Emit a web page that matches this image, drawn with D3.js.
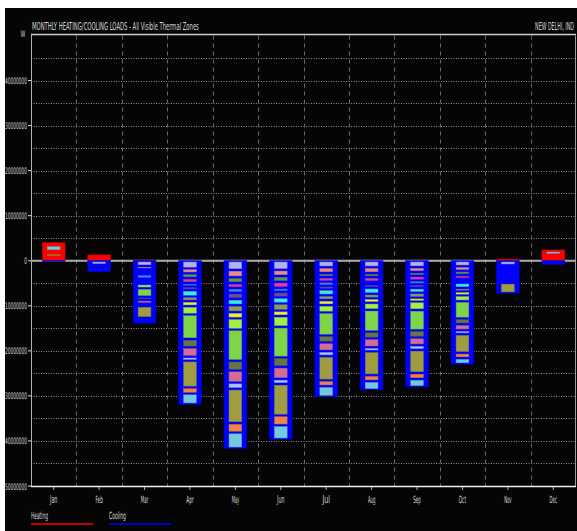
<!DOCTYPE html>
<html>
<head>
<meta charset="utf-8">
<script src="https://cdn.jsdelivr.net/npm/d3@7"></script>
<style>
  body { margin: 0; background: #fff; }
  svg { display: block; }
  text { font-family: "Liberation Sans Narrow", "DejaVu Sans Condensed", "Liberation Sans", sans-serif; fill: #d8d8d8; }
</style>
</head>
<body>
<svg id="chart" width="577" height="531"></svg>
<script>
// monthly loads in MW (heating positive, cooling shown below zero)
const months = ["Jan", "Feb", "Mar", "Apr", "May", "Jun", "Jul", "Aug", "Sep", "Oct", "Nov", "Dec"];

const heatTotal = [4.0, 1.3, 0.1, 0, 0, 0, 0, 0, 0, 0, 0.35, 2.4];
const coolTotal = [0.2, 2.4, 13.85, 31.85, 41.6, 39.6, 30.15, 28.65, 28.0, 22.95, 7.2, 0.8];

// one colour per thermal zone, zones stacked outward from the zero line
const zoneColors = ["#b0b4e8", "#e88c84", "#5a9a48", "#e83c9c", "#3c8ce0", "#704c9c", "#40e8e0", "#8c9c5c", "#f0f028",
  "#a4ee40", "#80d448", "#687444", "#d46c98", "#a8c4f0", "#a09c40", "#f08444", "#74c8dc"];

// per-zone heating loads (MW)
const heatZones = [
  [0.05, 0.05, 0.05, 0.05, 0.05, 0.05, 0.1, 0.05, 0.05, 0.1, 0.1, 0.05, 0.1, 0.05, 0.75, 0.5, 1.25],
  [0.1, 0, 0.05, 0, 0.05, 0.1, 0.1, 0.05, 0, 0.1, 0.2, 0.1, 0.1, 0, 0.2, 0.05, 0.1],
  [], [], [], [], [], [], [], [], [],
  [0.1, 0.05, 0.05, 0.05, 0.05, 0.05, 0.1, 0.05, 0.05, 0.1, 0.2, 0.1, 0.1, 0.05, 0.2, 0.05, 0.87]
];

// per-zone cooling loads (MW)
const coolZones = [
  [0.2],
  [0.9, 0.1, 0, 0, 0.1, 0, 0.1, 0, 0, 0.1, 0.4, 0.1, 0.1, 0, 0.5, 0, 0],
  [1.18, 0.71, 0.56, 0.56, 0.95, 0.29, 0.29, 0.28, 0.29, 1.00, 1.89, 0.67, 0.84, 0.56, 2.60, 0.56, 0.62],
  [1.70, 1.08, 1.08, 1.07, 0.78, 0.82, 1.40, 1.04, 1.11, 1.84, 5.46, 1.84, 2.08, 0.88, 5.93, 1.37, 2.37],
  [2.04, 1.62, 1.30, 1.08, 1.07, 1.38, 1.37, 1.56, 1.37, 2.48, 6.92, 2.19, 2.67, 1.37, 7.60, 2.11, 3.51],
  [2.00, 1.38, 1.29, 1.33, 0.89, 1.26, 1.33, 1.59, 1.20, 2.40, 6.78, 2.11, 2.67, 1.11, 7.00, 2.19, 3.10],
  [1.44, 1.30, 0.89, 1.00, 0.92, 0.82, 1.29, 1.08, 1.11, 1.62, 5.11, 1.56, 1.93, 1.11, 5.37, 1.30, 2.30],
  [1.44, 1.30, 0.89, 1.03, 0.53, 0.80, 1.33, 1.03, 0.97, 1.56, 4.84, 1.52, 1.97, 0.89, 5.30, 1.33, 1.92],
  [1.41, 1.07, 0.86, 1.03, 0.86, 0.81, 1.04, 1.11, 0.86, 1.89, 4.51, 1.59, 1.71, 1.03, 5.14, 1.33, 1.74],
  [1.22, 1.00, 0.92, 0.86, 0.44, 0.44, 1.14, 0.79, 0.88, 1.30, 3.81, 1.30, 1.33, 0.86, 4.14, 1.19, 1.32],
  [1.0, 0.3, 0.2, 0.2, 0.2, 0.2, 0.3, 0.3, 0.2, 0.4, 0.5, 0.4, 0.5, 0.2, 2.3],
  [0.3, 0, 0, 0, 0, 0, 0, 0, 0, 0, 0.2, 0, 0, 0, 0.3]
];

const yTicks = [40, 30, 20, 10, 0, -10, -20, -30, -40, -50];
const gridStep = 5;

const svg = d3.select("#chart");
const margin = {top: 35.5, right: 1, bottom: 45, left: 31};
const W = 577, H = 531;

// squeeze a text to a given width with a horizontal scale (the source font is very narrow)
function squeeze(sel, width) {
  sel.each(function() {
    const t = d3.select(this);
    const w = typeof width === "function" ? width(t.datum()) : width;
    const nat = this.getComputedTextLength();
    const tx = +t.attr("x"), ty = +t.attr("y");
    t.attr("transform", `translate(${tx},${ty}) scale(${w / nat},1)`).attr("x", 0).attr("y", 0);
  });
}

// black panel
svg.append("rect").attr("x", 5).attr("y", 8).attr("width", W - 5).attr("height", H - 8).attr("fill", "#050505");

const x = d3.scaleBand().domain(months).range([margin.left, W - margin.right]).padding(0);
const y = d3.scaleLinear().domain([-50, 50]).range([H - margin.bottom, margin.top]);

// grid: dotted horizontals every 5 MW, dashed verticals between months
svg.append("g").selectAll("line")
  .data(d3.range(-45, 50, gridStep))
  .join("line")
    .attr("x1", margin.left).attr("x2", W - margin.right)
    .attr("y1", d => Math.round(y(d)) + 0.5).attr("y2", d => Math.round(y(d)) + 0.5)
    .attr("stroke", "#8c8c8c").attr("stroke-width", 1).attr("stroke-dasharray", "1,1.5");

svg.append("g").selectAll("line")
  .data(months.slice(1))
  .join("line")
    .attr("x1", d => Math.round(x(d)) + 0.5).attr("x2", d => Math.round(x(d)) + 0.5)
    .attr("y1", y(50)).attr("y2", y(-50))
    .attr("stroke", "#6a6a6a").attr("stroke-width", 1).attr("stroke-dasharray", "4,4");

// frame
svg.append("line").attr("x1", margin.left).attr("x2", W - margin.right)
  .attr("y1", y(50) - 1).attr("y2", y(50) - 1).attr("stroke", "#d0d0d0").attr("stroke-width", 1.5);
svg.append("line").attr("x1", W - margin.right - 0.5).attr("x2", W - margin.right - 0.5)
  .attr("y1", y(50)).attr("y2", y(-50)).attr("stroke", "#9a9a9a");
svg.append("line").attr("x1", margin.left + 0.5).attr("x2", margin.left + 0.5)
  .attr("y1", y(50) - 1).attr("y2", y(-50)).attr("stroke", "#b0b0b0");

// zero line
svg.append("line").attr("x1", margin.left).attr("x2", W - margin.right)
  .attr("y1", y(0)).attr("y2", y(0)).attr("stroke", "#a8a8a8").attr("stroke-width", 2);

// bars
const bw = x.bandwidth() * 0.5;
const bx = m => x(m) + (x.bandwidth() - bw) / 2;

svg.append("g").selectAll("rect")
  .data(months.filter((m, i) => heatTotal[i] > 0))
  .join("rect")
    .attr("x", bx).attr("width", bw)
    .attr("y", m => y(heatTotal[months.indexOf(m)]))
    .attr("height", m => y(0) - y(heatTotal[months.indexOf(m)]))
    .attr("fill", "#ff0000").attr("stroke", "#c00000").attr("stroke-width", 0.6);

svg.append("g").selectAll("rect")
  .data(months)
  .join("rect")
    .attr("x", bx).attr("width", bw)
    .attr("y", y(0))
    .attr("height", (m, i) => y(-coolTotal[i]) - y(0))
    .attr("fill", "#0000ff").attr("stroke", "#0000c8").attr("stroke-width", 0.6);

// zone stripes inside each bar
const segs = [];
months.forEach((m, i) => {
  let c = 0;
  coolZones[i].forEach((v, z) => { segs.push({m, z, a: -c, b: -(c + v)}); c += v; });
  c = 0;
  heatZones[i].forEach((v, z) => { segs.push({m, z, a: c + v, b: c}); c += v; });
});
const inset = 1.3, side = 5;
svg.append("g").selectAll("rect")
  .data(segs.filter(s => Math.abs(y(s.b) - y(s.a)) - 2 * inset > 0.3))
  .join("rect")
    .attr("x", s => bx(s.m) + side).attr("width", bw - 2 * side)
    .attr("y", s => y(s.a) + inset)
    .attr("height", s => y(s.b) - y(s.a) - 2 * inset)
    .attr("fill", s => zoneColors[s.z])
    .attr("stroke", s => d3.color(zoneColors[s.z]).darker(0.6)).attr("stroke-width", 0.5);

// y axis labels
const yFmt = d => String(Math.abs(Math.round(d * 1e6)));
const yAx = svg.append("g");
yAx.selectAll("line").data(yTicks).join("line")
  .attr("x1", margin.left - 3).attr("x2", margin.left)
  .attr("y1", d => y(d)).attr("y2", d => y(d)).attr("stroke", "#e0e0e0");
yAx.selectAll("text").data(yTicks).join("text")
  .attr("x", 27).attr("y", d => y(d) + 3.5)
  .attr("text-anchor", "end").attr("font-size", 9)
  .text(yFmt)
  .call(squeeze, d => yFmt(d).length * 2.75);

// x axis
svg.append("line").attr("x1", margin.left).attr("x2", W - margin.right)
  .attr("y1", y(-50) + 0.5).attr("y2", y(-50) + 0.5).attr("stroke", "#f0f0f0").attr("stroke-width", 1.5);
const xAx = svg.append("g");
xAx.selectAll("line").data(months).join("line")
  .attr("x1", m => x(m) + x.bandwidth() / 2).attr("x2", m => x(m) + x.bandwidth() / 2)
  .attr("y1", y(-50) + 1).attr("y2", y(-50) + 4).attr("stroke", "#b0b0b0");
xAx.selectAll("text").data(months).join("text")
  .attr("x", m => x(m) + x.bandwidth() / 2).attr("y", 503)
  .attr("text-anchor", "middle").attr("font-size", 10)
  .text(m => m)
  .call(squeeze, 7.5);

// titles
svg.append("text").attr("x", 32).attr("y", 30).attr("font-size", 11)
  .attr("fill", "#f0f0f0")
  .text("MONTHLY HEATING/COOLING LOADS - All Visible Thermal Zones")
  .call(squeeze, 167);
svg.append("text").attr("x", 574).attr("y", 30).attr("font-size", 11).attr("text-anchor", "end")
  .attr("fill", "#f0f0f0")
  .text("NEW DELHI, IND")
  .call(squeeze, 39);
svg.append("text").attr("x", 23).attr("y", 37).attr("font-size", 9).attr("text-anchor", "middle")
  .text("W")
  .call(squeeze, 4.5);

// legend
const legend = [{name: "Heating", color: "#ff0000", x: 31}, {name: "Cooling", color: "#0000ff", x: 109}];
const lg = svg.append("g").selectAll("g").data(legend).join("g");
lg.append("text").attr("x", d => d.x).attr("y", 519).attr("font-size", 10)
  .text(d => d.name)
  .call(squeeze, 17);
lg.append("line").attr("x1", d => d.x).attr("x2", d => d.x + 62)
  .attr("y1", 524).attr("y2", 524).attr("stroke", d => d.color).attr("stroke-width", 1.6);
</script>
</body>
</html>
